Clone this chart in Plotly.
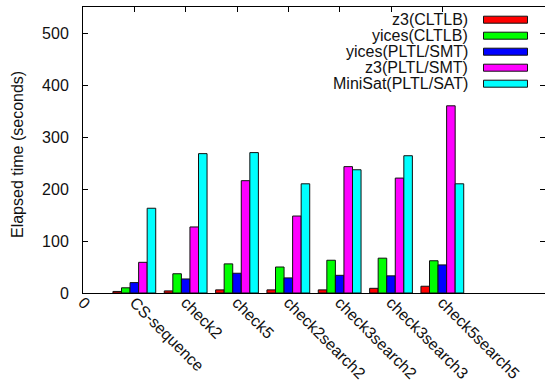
import plotly.graph_objects as go

# Benchmarks (x positions 1..7, position 0 left empty)
benchmarks = ["CS-sequence", "check2", "check5", "check2search2",
              "check3search2", "check3search3", "check5search5"]

# Elapsed time in seconds per solver configuration
z3_cltlb = [3, 4, 6, 6, 6, 9, 13]
yices_cltlb = [10, 37, 56, 50, 63, 67, 62]
yices_pltl_smt = [20, 27, 38, 29, 34, 33, 54]
z3_pltl_smt = [59, 127, 216, 148, 243, 221, 360]
minisat_pltl_sat = [163, 268, 270, 210, 237, 264, 210]

series_names = ["z3(CLTLB)", "yices(CLTLB)", "yices(PLTL/SMT)",
                "z3(PLTL/SMT)", "MiniSat(PLTL/SAT)"]
series_values = [z3_cltlb, yices_cltlb, yices_pltl_smt, z3_pltl_smt, minisat_pltl_sat]
series_colors = ["#ff0000", "#00ff00", "#0000ff", "#ff00ff", "#00ffff"]

x_ticktext = ["0"] + benchmarks
y_ticks = [0, 100, 200, 300, 400, 500]

FONT = "Liberation Sans, Arial, Helvetica, sans-serif"
W, H = 545, 388
ML, MT, MR, MB = 83, 7, 0, 95
PW, PH = W - ML - MR, H - MT - MB


def px_x(p):
    return (p - ML) / PW


def px_y(p):
    return (H - MB - p) / PH


xpos = list(range(1, len(benchmarks) + 1))

fig = go.Figure()
for name, vals, col in zip(series_names, series_values, series_colors):
    fig.add_trace(go.Bar(
        x=xpos, y=vals, name=name,
        marker=dict(color=col, line=dict(color="#111111", width=1)),
        showlegend=False,
    ))

# Empty trace carrying the right-hand tick axis
fig.add_trace(go.Scatter(x=[], y=[], yaxis="y2", showlegend=False))

# Key: label on the left, colour box on the right
shapes = []
annotations = []
for i, (name, col) in enumerate(zip(series_names, series_colors)):
    cy = 19.7 + 16 * i
    shapes.append(dict(
        type="rect", xref="paper", yref="paper",
        x0=px_x(483.5), x1=px_x(527.5),
        y0=px_y(cy + 3.5), y1=px_y(cy - 3.5),
        fillcolor=col, line=dict(color="#111111", width=1),
    ))
    annotations.append(dict(
        xref="paper", yref="paper", x=px_x(470), y=px_y(cy),
        xanchor="right", yanchor="middle", text=name, showarrow=False,
        font=dict(family=FONT, size=16, color="#111111"),
    ))

annotations.append(dict(
    xref="paper", yref="paper", x=px_x(17), y=px_y(155),
    xanchor="center", yanchor="middle", textangle=-90,
    text="Elapsed time (seconds)", showarrow=False,
    font=dict(family=FONT, size=16, color="#111111"),
))

fig.update_layout(
    width=W, height=H,
    margin=dict(l=ML, r=MR, t=MT, b=MB, autoexpand=False),
    paper_bgcolor="white", plot_bgcolor="white",
    barmode="group", bargap=1 / 6, bargroupgap=0,
    font=dict(family=FONT, size=16, color="#111111"),
    shapes=shapes, annotations=annotations,
    xaxis=dict(
        range=[0, 9], tickmode="array",
        tickvals=list(range(len(x_ticktext))), ticktext=x_ticktext,
        tickangle=45, ticks="inside", ticklen=5, tickcolor="black",
        showline=True, linecolor="black", linewidth=1, mirror="ticks",
        showgrid=False, zeroline=False, layer="below traces",
        ticklabelstandoff=-7,
        tickfont=dict(family=FONT, size=16, color="#111111"),
    ),
    yaxis=dict(
        range=[0, 550], tickmode="array", tickvals=y_ticks,
        ticks="inside", ticklen=5, tickcolor="black",
        showline=True, linecolor="black", linewidth=1, mirror=False,
        showgrid=False, zeroline=False, ticklabelstandoff=10,
        tickfont=dict(family=FONT, size=16, color="#111111"),
    ),
    yaxis2=dict(
        range=[0, 550], overlaying="y", side="right", tickmode="array",
        tickvals=y_ticks, ticks="inside", ticklen=5, tickcolor="black",
        showline=False, showgrid=False, zeroline=False, showticklabels=False,
    ),
)

fig.write_html("out.html")
